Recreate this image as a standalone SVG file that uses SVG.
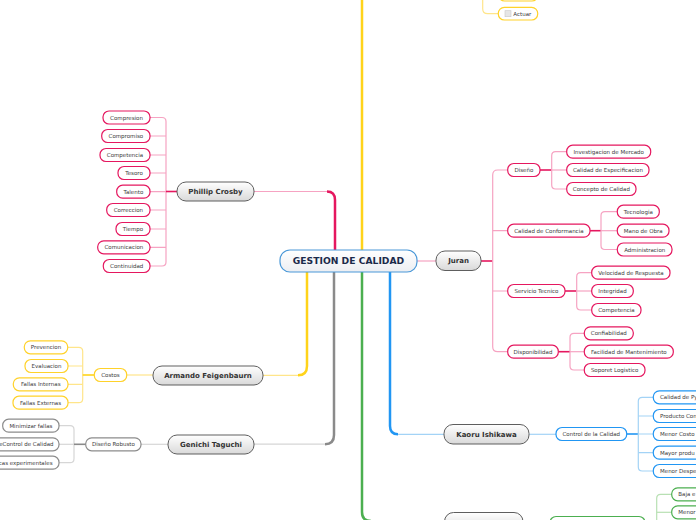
<svg xmlns="http://www.w3.org/2000/svg" width="696" height="520" viewBox="0 0 696 520">
<defs>
<linearGradient id="gMain" x1="0" y1="0" x2="0" y2="1"><stop offset="0" stop-color="#ffffff"/><stop offset="1" stop-color="#d9d9d9"/></linearGradient>
<linearGradient id="gCenter" x1="0" y1="0" x2="0" y2="1"><stop offset="0" stop-color="#ffffff"/><stop offset="1" stop-color="#eceef2"/></linearGradient>
</defs>
<style>
.main rect{fill:url(#gMain);stroke:#5e5e5e;stroke-width:1}
.mt{font-family:"DejaVu Sans",Verdana,sans-serif;font-weight:bold;font-size:7px;fill:#333;text-anchor:middle}
.ct{font-family:"DejaVu Sans",Verdana,sans-serif;font-size:5.5px;fill:#3a3a3a;text-anchor:middle}
.cs{text-anchor:start}.ce{text-anchor:end}
.c rect{fill:#fff;stroke-width:1.2}
.pk rect{stroke:#e5175f}.yl rect{stroke:#ffd22a}.gy rect{stroke:#8c8c8c}.bl rect{stroke:#2196f3}.gn rect{stroke:#4caf50}
.c rect.chk{fill:#e6e6e6;stroke:#c8c8c8;stroke-width:0.6}
.conn path{fill:none}
.dpk{stroke:#e5175f;stroke-width:2.5}.lpk{stroke:#f6a3c2;stroke-width:1.2}
.dyl{stroke:#ffd31a;stroke-width:2.5}.lyl{stroke:#ffe58a;stroke-width:1.2}
.dgy{stroke:#8a8a8a;stroke-width:2.5}.lgy{stroke:#d6d6d6;stroke-width:1.2}
.dbl{stroke:#2196f3;stroke-width:2.5}.lbl{stroke:#a3d3f6;stroke-width:1.2}
.dgn{stroke:#4caf50;stroke-width:2.5}.lgn{stroke:#b8e0b3;stroke-width:1.2}
.s15{stroke-width:1.6}
</style>
<rect width="696" height="520" fill="#fff"/>
<g id="connectors" class="conn">
<path class="dyl" d="M362,252 V0"/>
<path class="dpk" d="M335,252 V200 Q335,191.5 327,191.5"/>
<path class="lpk" d="M327,191.5 H254"/>
<path class="dyl" d="M307,270 V366 Q307,375.3 298,375.3"/>
<path class="lyl" d="M298,375.3 H263"/>
<path class="dgy" d="M334,270 V435 Q334,444.2 325,444.2"/>
<path class="lgy" d="M325,444.2 H254"/>
<path class="dgn" d="M362,270 V512 Q362,521 371,521"/>
<path class="dbl" d="M390,270 V426 Q390,434.3 398,434.3"/>
<path class="lbl" d="M398,434.3 H444"/>
<path class="lpk" d="M417,261 H436"/>
<path class="lpk" d="M150,117.5 H162 Q166,117.5 166,121.5 V262 Q166,266 162,266 H150"/>
<path class="lpk" d="M150,136 H166 M150,155 H166 M150,173 H166 M150,191.7 H166 M150,210 H166 M150,229 H166 M150,247.3 H166"/>
<path class="dpk s15" d="M166,191.5 H177"/>
<path class="lyl" d="M67.7,347.3 H78.7 Q82.7,347.3 82.7,351.3 V398.7 Q82.7,402.7 78.7,402.7 H68"/>
<path class="lyl" d="M68,366 H82.7 M68,384.3 H82.7"/>
<path class="dyl s15" d="M82.7,375 H94.3"/>
<path class="lyl" d="M126.7,375 H153"/>
<path class="lgy" d="M59,425.7 H70 Q74,425.7 74,429.7 V458.7 Q74,462.7 70,462.7 H59"/>
<path class="lgy" d="M59,444.3 H74"/>
<path class="dgy s15" d="M74,444.3 H85.7"/>
<path class="lgy" d="M141,444.3 H168"/>
<path class="dpk s15" d="M481,261 H492.7"/>
<path class="lpk" d="M507.7,170 H497.7 Q492.7,170 492.7,175 V346.7 Q492.7,351.7 497.7,351.7 H507.7"/>
<path class="lpk" d="M492.7,230.7 H507.7 M492.7,291 H507.7"/>
<path class="dpk s15" d="M540,170 H551.7"/>
<path class="lpk" d="M566.7,151.7 H555.7 Q551.7,151.7 551.7,155.7 V185 Q551.7,189 555.7,189 H566.7"/>
<path class="lpk" d="M551.7,170 H566.7"/>
<path class="dpk s15" d="M590,230.7 H601"/>
<path class="lpk" d="M617.3,211.7 H605 Q601,211.7 601,215.7 V245.5 Q601,249.5 605,249.5 H617.3"/>
<path class="lpk" d="M601,230.7 H617.3"/>
<path class="dpk s15" d="M565,291 H576.7"/>
<path class="lpk" d="M591.7,272.7 H580.7 Q576.7,272.7 576.7,276.7 V306 Q576.7,310 580.7,310 H591.7"/>
<path class="lpk" d="M576.7,291 H591.7"/>
<path class="dpk s15" d="M558.3,351.7 H570"/>
<path class="lpk" d="M584.3,333.3 H574 Q570,333.3 570,337.3 V366 Q570,370 574,370 H584.3"/>
<path class="lpk" d="M570,351.7 H584.3"/>
<path class="lbl" d="M529.3,434.3 H556"/>
<path class="dbl s15" d="M626.7,434 H638.3"/>
<path class="lbl" d="M653.3,397.3 H642.3 Q638.3,397.3 638.3,401.3 V467 Q638.3,471 642.3,471 H653.3"/>
<path class="lbl" d="M638.3,416 H653.3 M638.3,434 H653.3 M638.3,452.7 H653.3"/>
<path class="lgn" d="M671.7,494.3 H660.7 Q656.7,494.3 656.7,498.3 V520"/>
<path class="lgn" d="M656.7,512.3 H671.7"/>
<path class="lyl" d="M482.7,0 V8.7 Q482.7,13.7 487.7,13.7 H498.3"/>
</g>
<g id="center"><rect x="280" y="250" width="137" height="22" rx="10" fill="url(#gCenter)" stroke="#4a98d8" stroke-width="1.2"/><text x="348.5" y="264.2" font-family="DejaVu Sans,Verdana,sans-serif" font-weight="bold" font-size="9.2" fill="#1b2a4a" text-anchor="middle">GESTION DE CALIDAD</text></g>
<g id="crosby" class="main"><rect x="177" y="182" width="77" height="19" rx="9"/><text class="mt" x="215.5" y="194">Phillip Crosby</text></g>
<g id="feigenbaum" class="main"><rect x="153" y="366" width="110" height="19" rx="9"/><text class="mt" x="208" y="378">Armando Feigenbaurn</text></g>
<g id="taguchi" class="main"><rect x="168" y="435" width="86" height="19" rx="9"/><text class="mt" x="211" y="447">Genichi Taguchi</text></g>
<g id="juran" class="main"><rect x="436" y="251" width="45" height="19.5" rx="9"/><text class="mt" x="458.5" y="263.3">Juran</text></g>
<g id="ishikawa" class="main"><rect x="444" y="424.5" width="85" height="19.5" rx="9"/><text class="mt" x="486.5" y="436.8">Kaoru Ishikawa</text></g>
<g id="bottom-node" class="main"><rect x="444.5" y="512.5" width="78.5" height="19" rx="9"/></g>
<g id="n-compresion" class="c pk"><rect x="103" y="111" width="47" height="13" rx="6"/><text class="ct" x="126.5" y="119.5">Compresion</text></g>
<g id="n-compromiso" class="c pk"><rect x="101.7" y="129.5" width="48.3" height="13" rx="6"/><text class="ct" x="125.9" y="138">Compromiso</text></g>
<g id="n-competencia1" class="c pk"><rect x="100" y="148.5" width="50" height="13" rx="6"/><text class="ct" x="125" y="157">Competencia</text></g>
<g id="n-tesoro" class="c pk"><rect x="118" y="166.5" width="32" height="13" rx="6"/><text class="ct" x="134" y="175">Tesoro</text></g>
<g id="n-talento" class="c pk"><rect x="116.7" y="185.2" width="33.3" height="13" rx="6"/><text class="ct" x="133.4" y="193.7">Talento</text></g>
<g id="n-correccion" class="c pk"><rect x="106.7" y="203.5" width="43.3" height="13" rx="6"/><text class="ct" x="128.4" y="212">Correccion</text></g>
<g id="n-tiempo" class="c pk"><rect x="116" y="222.5" width="34" height="13" rx="6"/><text class="ct" x="133" y="231">Tiempo</text></g>
<g id="n-comunicacion" class="c pk"><rect x="97.7" y="240.8" width="52.3" height="13" rx="6"/><text class="ct" x="123.9" y="249.3">Comunicacion</text></g>
<g id="n-continuidad" class="c pk"><rect x="103.3" y="259.5" width="46.7" height="13" rx="6"/><text class="ct" x="126.7" y="268">Continuidad</text></g>
<g id="n-costos" class="c yl"><rect x="94.3" y="368.5" width="32.4" height="13" rx="6"/><text class="ct" x="110.5" y="377">Costos</text></g>
<g id="n-prevencion" class="c yl"><rect x="24.3" y="340.8" width="43.4" height="13" rx="6"/><text class="ct" x="46" y="349.3">Prevencion</text></g>
<g id="n-evaluacion" class="c yl"><rect x="25" y="359.5" width="43" height="13" rx="6"/><text class="ct" x="46.5" y="368">Evaluacion</text></g>
<g id="n-fallasint" class="c yl"><rect x="13.3" y="377.8" width="54.7" height="13" rx="6"/><text class="ct" x="40.7" y="386.3">Fallas Internas</text></g>
<g id="n-fallasext" class="c yl"><rect x="13" y="396.2" width="55" height="13" rx="6"/><text class="ct" x="40.5" y="404.7">Fallas Externas</text></g>
<g id="n-disenorobusto" class="c gy"><rect x="85.7" y="437.8" width="55.3" height="13" rx="6"/><text class="ct" x="113.4" y="446.3">Diseño Robusto</text></g>
<g id="n-minimizar" class="c gy"><rect x="2.7" y="419.2" width="56.3" height="13" rx="6"/><text class="ct" x="30.9" y="427.7">Minimizar fallas</text></g>
<g id="n-control" class="c gy"><rect x="-12" y="437.8" width="71" height="13" rx="6"/><text class="ct ce" x="53.5" y="446.3">eControl de Calidad</text></g>
<g id="n-tecnicas" class="c gy"><rect x="-12" y="456.2" width="71" height="13" rx="6"/><text class="ct ce" x="52.5" y="464.7">cas experimentales</text></g>
<g id="n-diseno" class="c pk"><rect x="507.7" y="163.5" width="32.3" height="13" rx="6"/><text class="ct" x="523.9" y="172">Diseño</text></g>
<g id="n-conformancia" class="c pk"><rect x="507.7" y="224.2" width="82.3" height="13" rx="6"/><text class="ct" x="548.9" y="232.7">Calidad de Conformancia</text></g>
<g id="n-servicio" class="c pk"><rect x="507.7" y="284.5" width="57.3" height="13" rx="6"/><text class="ct" x="536.4" y="293">Servicio Tecnico</text></g>
<g id="n-disponibilidad" class="c pk"><rect x="507.7" y="345.2" width="50.6" height="13" rx="6"/><text class="ct" x="533" y="353.7">Disponibilidad</text></g>
<g id="n-investigacion" class="c pk"><rect x="566.7" y="145.2" width="84" height="13" rx="6"/><text class="ct" x="608.7" y="153.7">Investigacion de Mercado</text></g>
<g id="n-especificacion" class="c pk"><rect x="566.7" y="163.5" width="82.3" height="13" rx="6"/><text class="ct" x="607.9" y="172">Calidad de Especificacion</text></g>
<g id="n-concepto" class="c pk"><rect x="566.7" y="182.5" width="69.3" height="13" rx="6"/><text class="ct" x="601.4" y="191">Concepto de Calidad</text></g>
<g id="n-tecnologia" class="c pk"><rect x="617.3" y="205.2" width="42" height="13" rx="6"/><text class="ct" x="638.3" y="213.7">Tecnologia</text></g>
<g id="n-manoobra" class="c pk"><rect x="617.3" y="224.2" width="51.7" height="13" rx="6"/><text class="ct" x="643.2" y="232.7">Mano de Obra</text></g>
<g id="n-administracion" class="c pk"><rect x="617.3" y="243" width="54.7" height="13" rx="6"/><text class="ct" x="644.7" y="251.5">Administracion</text></g>
<g id="n-velocidad" class="c pk"><rect x="591.7" y="266.2" width="78.3" height="13" rx="6"/><text class="ct" x="630.9" y="274.7">Velocidad de Respuesta</text></g>
<g id="n-integridad" class="c pk"><rect x="591.7" y="284.5" width="41.6" height="13" rx="6"/><text class="ct" x="612.5" y="293">Integridad</text></g>
<g id="n-competencia2" class="c pk"><rect x="591.7" y="303.5" width="49.3" height="13" rx="6"/><text class="ct" x="616.4" y="312">Competencia</text></g>
<g id="n-confiabilidad" class="c pk"><rect x="584.3" y="326.8" width="49" height="13" rx="6"/><text class="ct" x="608.8" y="335.3">Confiabilidad</text></g>
<g id="n-facilidad" class="c pk"><rect x="584.3" y="345.2" width="89" height="13" rx="6"/><text class="ct" x="628.8" y="353.7">Facilidad de Mantenimiento</text></g>
<g id="n-soporte" class="c pk"><rect x="584.3" y="363.5" width="60.7" height="13" rx="6"/><text class="ct" x="614.6" y="372">Soporet Logistico</text></g>
<g id="n-controlcalidad" class="c bl"><rect x="556" y="427.5" width="70.7" height="13" rx="6"/><text class="ct" x="591.3" y="436">Control de la Calidad</text></g>
<g id="n-ish1" class="c bl"><rect x="653.3" y="390.8" width="60" height="13" rx="6"/><text class="ct cs" x="660" y="399.3">Calidad de Py</text></g>
<g id="n-ish2" class="c bl"><rect x="653.3" y="409.5" width="60" height="13" rx="6"/><text class="ct cs" x="660" y="418">Producto Con</text></g>
<g id="n-ish3" class="c bl"><rect x="653.3" y="427.5" width="60" height="13" rx="6"/><text class="ct cs" x="660" y="436">Menor Costo</text></g>
<g id="n-ish4" class="c bl"><rect x="653.3" y="446.2" width="60" height="13" rx="6"/><text class="ct cs" x="660" y="454.7">Mayor produ</text></g>
<g id="n-ish5" class="c bl"><rect x="653.3" y="464.5" width="60" height="13" rx="6"/><text class="ct cs" x="660" y="473">Menor Despe</text></g>
<g id="n-green-main" class="c gn"><rect x="550" y="516.5" width="95" height="13" rx="6"/></g>
<g id="n-gn1" class="c gn"><rect x="671.7" y="487.8" width="40" height="13" rx="6"/><text class="ct cs" x="678.3" y="496.3">Baja e</text></g>
<g id="n-gn2" class="c gn"><rect x="671.7" y="505.8" width="40" height="13" rx="6"/><text class="ct cs" x="678.3" y="514.3">Menor</text></g>
<g id="n-top-prev" class="c yl"><rect x="498.5" y="-12" width="39.5" height="13" rx="6"/></g>
<g id="n-actuar" class="c yl"><rect x="498.3" y="7.3" width="39.4" height="12.7" rx="6"/><rect class="chk" x="505" y="10.7" width="6" height="6"/><text class="ct cs" x="513.3" y="15.8">Actuar</text></g>
</svg>
